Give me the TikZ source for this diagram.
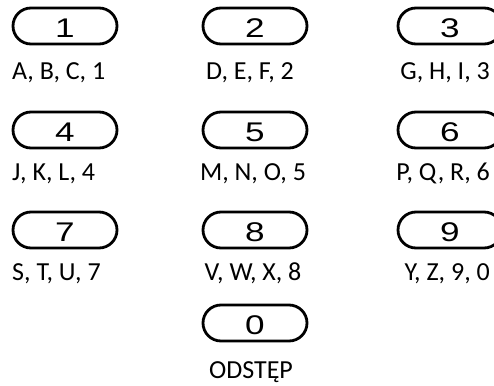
\documentclass[tikz,border=0pt]{standalone}
\usepackage{fontspec}
\usetikzlibrary{shapes.misc}
\setmainfont{Carlito}
\newfontfamily\digitfont{Liberation Sans}
\begin{document}
\begin{tikzpicture}[x=1pt,y=-1pt,
  pill/.style={draw=black, line width=2.8pt, rounded rectangle, minimum width=104pt, minimum height=36pt, inner sep=0pt, outer sep=0pt},
  digit/.style={font=\digitfont\fontsize{27}{27}\selectfont, inner sep=0pt},
  lbl/.style={font=\fontsize{26}{27}\selectfont, inner sep=0pt, anchor=base}]
\useasboundingbox (0,0) rectangle (494,385);
\node[pill] (k1) at (65,26) {};
\node[pill] (k2) at (255,26) {};
\node[pill] (k3) at (450,26) {};
\node[pill] (k4) at (65,130) {};
\node[pill] (k5) at (255,130) {};
\node[pill] (k6) at (450,130) {};
\node[pill] (k7) at (65,230) {};
\node[pill] (k8) at (255,230) {};
\node[pill] (k9) at (450,230) {};
\node[pill] (k0) at (255,323) {};
\foreach \n in {1,...,9,0} {\node[digit, yshift=-2pt] (d\n) at (k\n) {\scalebox{1.3}[1]{\n}};}
\node[lbl, anchor=base west] (l1) at (12,80) {A, B, C, 1};
\node[lbl] (l2) at (250,80) {D, E, F, 2};
\node[lbl, anchor=base east] (l3) at (490,80) {G, H, I, 3};
\node[lbl, anchor=base west] (l4) at (12,180) {J, K, L, 4};
\node[lbl] (l5) at (253,180) {M, N, O, 5};
\node[lbl, anchor=base east] (l6) at (490,180) {P, Q, R, 6};
\node[lbl, anchor=base west] (l7) at (12,280) {S, T, U, 7};
\node[lbl] (l8) at (253,280) {V, W, X, 8};
\node[lbl, anchor=base east] (l9) at (490,280) {Y, Z, 9, 0};
\node[lbl] (l0) at (251,378) {ODSTĘP};
\end{tikzpicture}
\end{document}
